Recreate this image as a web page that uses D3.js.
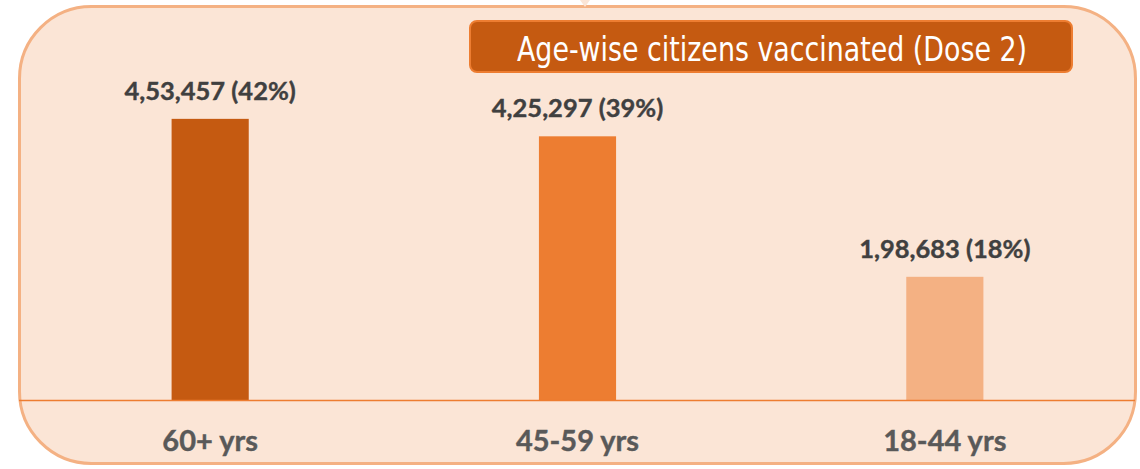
<!DOCTYPE html>
<html>
<head>
<meta charset="utf-8">
<script src="https://cdn.jsdelivr.net/npm/d3@7"></script>
<style>
  html, body { margin: 0; padding: 0; background: #ffffff; }
  svg { display: block; }
</style>
</head>
<body>
<svg id="chart" width="1140" height="469"></svg>
<script>
// ---- data ----
const categories = ["60+ yrs", "45-59 yrs", "18-44 yrs"];
const values = [453457, 425297, 198683];
const percents = ["42%", "39%", "18%"];
const barColors = ["#C55A11", "#ED7D31", "#F4B183"];
const title = "Age-wise citizens vaccinated (Dose 2)";

const svg = d3.select("#chart");

// panel
svg.append("rect")
  .attr("x", 19.5).attr("y", 6.5)
  .attr("width", 1116).attr("height", 457)
  .attr("rx", 72).attr("ry", 72)
  .attr("fill", "#FBE5D6")
  .attr("stroke", "#F4B183")
  .attr("stroke-width", 3);

// small notch at top
svg.append("path")
  .attr("d", "M580,0 L590,0 L585,7 Z")
  .attr("fill", "#FBE5D6");

const baseY = 400;
const x = d3.scaleBand()
  .domain(categories)
  .range([26.5, 1128.5])
  .paddingInner(0.79)
  .paddingOuter(0.395);

const y = d3.scaleLinear()
  .domain([0, 500000])
  .range([baseY, baseY - 310]);

// bars
svg.append("g").selectAll("rect")
  .data(categories)
  .join("rect")
  .attr("x", d => x(d))
  .attr("y", (d, i) => y(values[i]))
  .attr("width", x.bandwidth())
  .attr("height", (d, i) => baseY - y(values[i]))
  .attr("fill", (d, i) => barColors[i]);

// axis line
const xAxis = d3.axisBottom(x).tickSize(0).tickPadding(0).tickFormat("");
const axisG = svg.append("g").attr("transform", `translate(0,${baseY})`).call(xAxis);
axisG.select(".domain").remove();
svg.append("line")
  .attr("x1", 19).attr("x2", 1135)
  .attr("y1", baseY + 0.5).attr("y2", baseY + 0.5)
  .attr("stroke", "#ED7D31").attr("stroke-width", 1.5);

// value labels
const fmt = v => {
  // Indian grouping
  const s = String(v);
  const last3 = s.slice(-3);
  let rest = s.slice(0, -3);
  rest = rest.replace(/\B(?=(\d{2})+(?!\d))/g, ",");
  return (rest ? rest + "," : "") + last3;
};
svg.append("g").selectAll("text")
  .data(categories)
  .join("text")
  .attr("x", d => x(d) + x.bandwidth() / 2)
  .attr("y", (d, i) => y(values[i]) - 19)
  .attr("text-anchor", "middle")
  .attr("font-family", "Lato, 'Open Sans', sans-serif")
  .attr("font-weight", "bold")
  .attr("font-size", 25.5)
  .attr("fill", "#404040")
  .attr("stroke", "#404040")
  .attr("stroke-width", 0.4)
  .text((d, i) => `${fmt(values[i])} (${percents[i]})`);

// category labels
svg.append("g").selectAll("text")
  .data(categories)
  .join("text")
  .attr("x", d => x(d) + x.bandwidth() / 2)
  .attr("y", 451)
  .attr("text-anchor", "middle")
  .attr("font-family", "Lato, 'Open Sans', sans-serif")
  .attr("font-weight", "bold")
  .attr("font-size", 29)
  .attr("fill", "#595959")
  .attr("stroke", "#595959")
  .attr("stroke-width", 0.4)
  .text(d => d);

// title box
svg.append("rect")
  .attr("x", 470).attr("y", 21)
  .attr("width", 602).attr("height", 51)
  .attr("rx", 7).attr("ry", 7)
  .attr("fill", "#C55A11")
  .attr("stroke", "#ED7D31")
  .attr("stroke-width", 2);
svg.append("text")
  .attr("x", 772).attr("y", 61)
  .attr("text-anchor", "middle")
  .attr("font-family", "'DejaVu Sans Condensed', 'Liberation Sans Narrow', 'DejaVu Sans', sans-serif")
  .attr("font-size", 33)
  .attr("fill", "#ffffff")
  .attr("textLength", 510)
  .attr("lengthAdjust", "spacingAndGlyphs")
  .text(title);
</script>
</body>
</html>
